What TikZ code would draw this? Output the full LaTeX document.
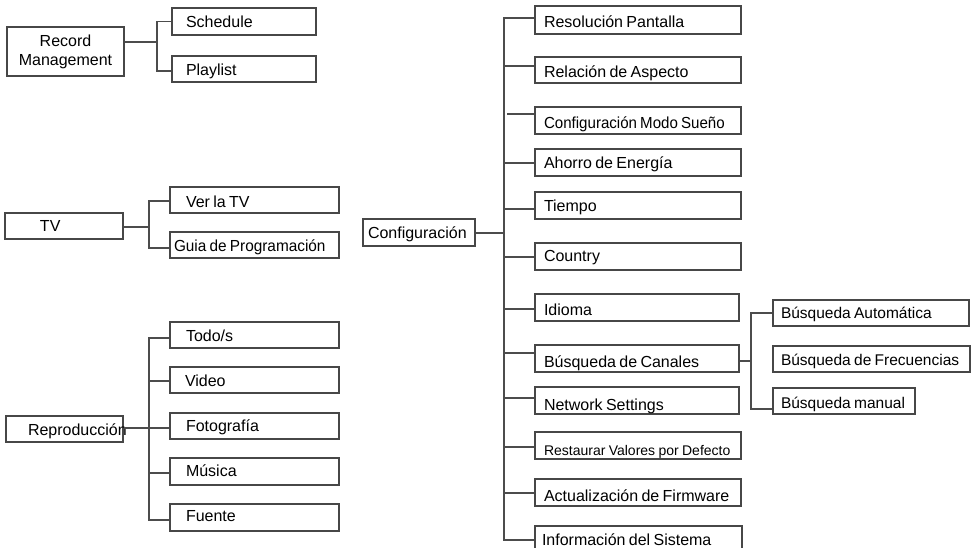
\documentclass[tikz,border=0pt]{standalone}
\usepackage{fontspec}
\setmainfont{Liberation Sans}
\usepackage{graphicx}
\tikzset{
  box/.style={draw=black!72, line width=1.2pt, inner ysep=0pt, inner xsep=0pt, text depth=0pt, align=left},
  conn/.style={draw=black!70, line width=1.1pt}
}
\newcommand{\mkbox}[9]{%
  \pgfmathsetmacro{\mkbw}{#4-#2}%
  \pgfmathsetmacro{\mkbh}{#5-#3}%
  \pgfmathsetmacro{\mkcx}{(#2+#4)/2}%
  \pgfmathsetmacro{\mkcy}{(#3+#5)/2}%
  \pgfmathsetmacro{\mkth}{2*(#7-\mkcy)}%
  \node[box, minimum width=\mkbw pt, minimum height=\mkbh pt, text width=\mkbw pt, text height=\mkth pt] (#1) at (\mkcx,\mkcy) {\hspace*{#6pt}{#9\mbox{#8}}};%
}
\newcommand{\fs}{\fontsize{16}{19}\selectfont}
\newcommand{\fsb}{\fontsize{15.5}{18}\selectfont}
\begin{document}
\begin{tikzpicture}[x=1pt,y=-1pt]
\useasboundingbox (0,0) rectangle (976,547);
\clip (0,0) rectangle (976,547);
% left: Record Management
\node[box, align=center, minimum width=117pt, minimum height=49pt, text depth=, font=\fs] (rm) at (65.5,51.5) {Record\\Management};
\mkbox{sch}{172}{8}{316}{35}{14}{27}{Schedule}{\fs}
\mkbox{pl}{172}{56}{316}{82}{14}{75}{Playlist}{\fs}
% TV
\mkbox{tv}{5}{213}{123}{239}{35}{231}{TV}{\fs}
\mkbox{ver}{170}{187}{339}{213}{16}{207}{Ver la TV}{\fs}
\mkbox{guia}{170}{232}{339}{258}{4}{251}{\scalebox{0.96}[1]{Guia de Programación}}{\fs}
% Reproduccion
\mkbox{rep}{6}{416}{123}{442}{22}{435}{Reproducción}{\fs}
\mkbox{todo}{170}{322}{339}{348}{16}{341}{Todo/s}{\fs}
\mkbox{video}{170}{367}{339}{393}{15}{386}{Video}{\fs}
\mkbox{foto}{170}{413}{339}{439}{16}{431}{Fotografía}{\fs}
\mkbox{mus}{170}{458}{339}{485}{16}{476}{Música}{\fs}
\mkbox{fue}{170}{504}{339}{531}{16}{521}{Fuente}{\fs}
% Configuracion
\mkbox{conf}{363}{219}{475}{246}{5}{238}{Configuración}{\fs}
\mkbox{res}{535}{6}{741}{34}{9}{27}{Resolución Pantalla}{\fs}
\mkbox{rel}{535}{57}{741}{83}{9}{77}{Relación de Aspecto}{\fs}
\mkbox{modo}{535}{107}{741}{134}{9}{128}{\scalebox{0.943}[1]{Configuración Modo Sueño}}{\fs}
\mkbox{aho}{535}{149}{741}{176}{9}{168}{Ahorro de Energía}{\fs}
\mkbox{tie}{535}{192}{741}{219}{9}{211}{Tiempo}{\fs}
\mkbox{cou}{535}{243}{741}{270}{9}{261}{Country}{\fs}
\mkbox{idi}{535}{294}{739}{321}{9}{315}{Idioma}{\fs}
\mkbox{can}{535}{345}{739}{372}{9}{367}{Búsqueda de Canales}{\fs}
\mkbox{net}{535}{387}{739}{414}{9}{410}{Network Settings}{\fs}
\mkbox{rest}{535}{432}{741}{459}{9}{455}{Restaurar Valores por Defecto}{\fontsize{14}{17}\selectfont}
\mkbox{act}{535}{479}{741}{506}{9}{501}{Actualización de Firmware}{\fs}
\mkbox{inf}{535}{526}{742}{553}{7}{545}{Información del Sistema}{\fs}
% Busqueda sub-items
\mkbox{auto}{773}{300}{969}{326}{8}{318}{Búsqueda Automática}{\fsb}
\mkbox{frec}{773}{346}{970}{372}{8}{365}{Búsqueda de Frecuencias}{\fsb}
\mkbox{man}{773}{388}{915}{414}{8}{408}{Búsqueda manual}{\fsb}
% connectors
\coordinate (jrm) at (157,42);
\draw[conn] ([yshift=9.5pt]rm.east) -- (jrm);
\draw[conn] (sch.west) -| (jrm);
\draw[conn] ([yshift=-2pt]pl.west) -| (jrm);
\coordinate (jtv) at (149,227);
\draw[conn] ([yshift=-1pt]tv.east) -- (jtv);
\draw[conn] ([yshift=-1pt]ver.west) -| (jtv);
\draw[conn] ([yshift=-3pt]guia.west) -| (jtv);
\coordinate (jrep) at (149,428);
\draw[conn] ([yshift=1pt]rep.east) -- (jrep);
\draw[conn] ([yshift=-3pt]todo.west) -| (jrep);
\draw[conn] ([yshift=-1pt]video.west) -| (jrep);
\draw[conn] ([yshift=-2pt]foto.west) -| (jrep);
\draw[conn] ([yshift=-1.5pt]mus.west) -| (jrep);
\draw[conn] ([yshift=-2.5pt]fue.west) -| (jrep);
\coordinate (jc) at (504,233);
\draw[conn] ([yshift=-0.5pt]conf.east) -- (jc);
\draw[conn] ([yshift=2pt]res.west) -| (jc);
\draw[conn] ([yshift=4pt]rel.west) -| (jc);
\coordinate (modoend) at (507,114);
\draw[conn] ([yshift=6.5pt]modo.west) -- (modoend);
\draw[conn] ([yshift=-0.5pt]aho.west) -| (jc);
\draw[conn] ([yshift=-3.5pt]tie.west) -| (jc);
\draw[conn] ([yshift=-0.5pt]cou.west) -| (jc);
\draw[conn] ([yshift=-1.5pt]idi.west) -| (jc);
\draw[conn] ([yshift=5.5pt]can.west) -| (jc);
\draw[conn] ([yshift=2.5pt]net.west) -| (jc);
\draw[conn] ([yshift=-1.5pt]rest.west) -| (jc);
\draw[conn] ([yshift=-0.5pt]act.west) -| (jc);
\draw[conn] ([yshift=-0.5pt]inf.west) -| (jc);
\coordinate (js) at (751,361);
\draw[conn] ([yshift=-2.5pt]can.east) -- (js);
\draw[conn] (auto.west) -| (js);
\draw[conn] ([yshift=-8pt]man.west) -| (js);
\end{tikzpicture}
\end{document}
